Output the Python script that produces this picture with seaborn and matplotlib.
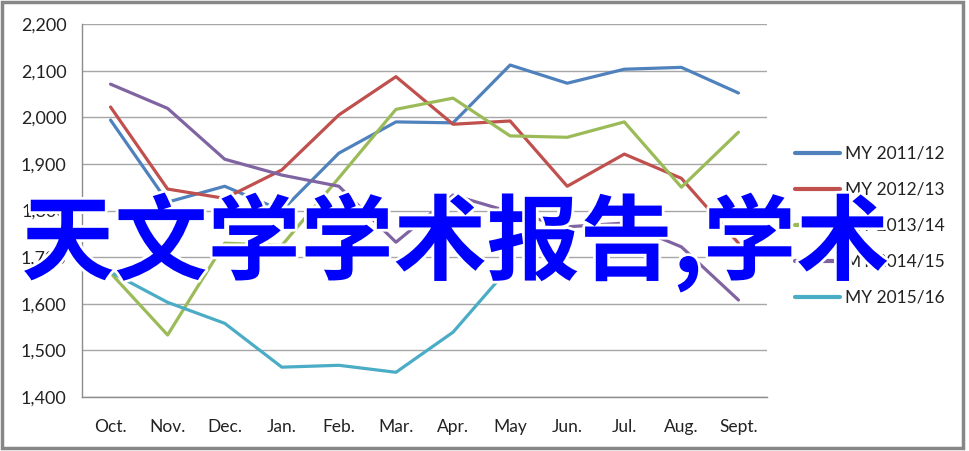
import numpy as np
import pandas as pd
import matplotlib
matplotlib.use('Agg')
import matplotlib.pyplot as plt
import matplotlib.patheffects as pe
from matplotlib.patches import Rectangle
from matplotlib.ticker import FuncFormatter, FixedLocator
import seaborn as sns

months = ['Oct.', 'Nov.', 'Dec.', 'Jan.', 'Feb.', 'Mar.', 'Apr.', 'May', 'Jun.', 'Jul.', 'Aug.', 'Sept.']
series_names = ['MY 2011/12', 'MY 2012/13', 'MY 2013/14', 'MY 2014/15', 'MY 2015/16']
my_2011 = [1994, 1818, 1852, 1800, 1923, 1990, 1988, 2112, 2073, 2103, 2107, 2052]
my_2012 = [2022, 1846, 1826, 1887, 2005, 2087, 1985, 1992, 1852, 1921, 1869, 1730]
my_2013 = [1666, 1533, 1730, 1725, 1870, 2017, 2041, 1960, 1957, 1990, 1850, 1968]
my_2014 = [2071, 2019, 1910, 1876, 1852, 1732, 1833, 1797, 1765, 1773, 1722, 1608]
my_2015 = [1668, 1603, 1558, 1464, 1468, 1453, 1539, 1680, np.nan, np.nan, np.nan, np.nan]
colors = ['#4F81BD', '#C0504D', '#9BBB59', '#8064A2', '#4BACC6']
overlay = '天文学学术报告,学术'

rows = []
for name, vals in zip(series_names, [my_2011, my_2012, my_2013, my_2014, my_2015]):
    for i, v in enumerate(vals):
        rows.append({'idx': i, 'value': v, 'series': name})
df = pd.DataFrame(rows)

sns.set_style('white')
plt.rcParams['font.family'] = ['Lato', 'DejaVu Sans']

fig = plt.figure(figsize=(9.69, 4.51), dpi=100)
ax = fig.add_axes([82 / 969, 1 - 397 / 451, (767 - 82) / 969, (397 - 24) / 451])

sns.lineplot(data=df, x='idx', y='value', hue='series', palette=colors,
             linewidth=2.3, ax=ax, legend=True)

ax.set_xlim(-0.5, 11.5)
ax.set_ylim(1400, 2200)
ax.set_yticks(np.arange(1400, 2201, 100))
ax.yaxis.set_major_formatter(FuncFormatter(lambda v, p: f'{int(v):,}'))
ax.grid(axis='y', color='#a6a6a6', linewidth=1)
ax.set_axisbelow(True)
ax.set_xticks(range(12))
ax.set_xticklabels(months)
ax.xaxis.set_minor_locator(FixedLocator(np.arange(-0.5, 12, 1)))
ax.tick_params(axis='x', which='major', length=0, pad=16, labelsize=12.5, colors='#222222')
ax.tick_params(axis='x', which='minor', length=6, width=1, color='#8c8c8c', direction='out')
ax.tick_params(axis='y', length=8, width=1, color='#a6a6a6', direction='out', pad=3,
               labelsize=13, colors='#222222')
ax.tick_params(axis='y', colors='#a6a6a6', labelcolor='#222222')
ax.set_xlabel('')
ax.set_ylabel('')
for s in ['top', 'right']:
    ax.spines[s].set_visible(False)
for s in ['left', 'bottom']:
    ax.spines[s].set_color('#8c8c8c')
    ax.spines[s].set_linewidth(1)

leg = ax.legend(loc='upper left', bbox_to_anchor=(1.018, 0.715), frameon=False,
                fontsize=12.5, handlelength=2.6, handletextpad=0.3, labelspacing=1.15)
for t in leg.get_texts():
    t.set_color('#222222')
for h in leg.get_lines():
    h.set_linewidth(3)

fig.add_artist(Rectangle((2 / 969, 3 / 451), 961 / 969, 446 / 451, transform=fig.transFigure,
                         fill=False, edgecolor='#878787', linewidth=2.5))

fig.text(455 / 969, 1 - 243 / 451, overlay, ha='center', va='center', fontsize=67,
         fontweight='bold', color='#0000FF', family=['Noto Sans CJK SC', 'DejaVu Sans'],
         path_effects=[pe.withStroke(linewidth=4, foreground='white')])

fig.savefig('out.png', dpi=100, facecolor='white')
